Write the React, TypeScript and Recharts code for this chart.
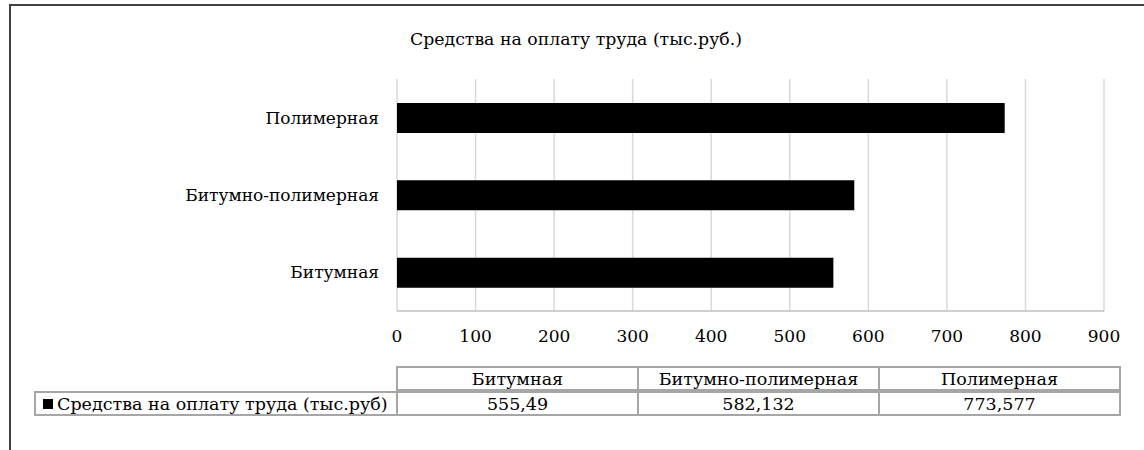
import { BarChart, Bar, XAxis, YAxis, CartesianGrid } from "recharts";

const categories = ["Битумная", "Битумно-полимерная", "Полимерная"];
const values = [555.49, 582.132, 773.577];
const valueLabels = ["555,49", "582,132", "773,577"];
const xTicks = [0, 100, 200, 300, 400, 500, 600, 700, 800, 900];

const title = "Средства на оплату труда (тыс.руб.)";
const seriesName = "Средства на оплату труда (тыс.руб)";

const data = categories.map((name, i) => ({ name, value: values[i] }));

const FONT = '"DejaVu Serif", serif';
const TABLE_LEFT = 35;
const TABLE_SPLIT = 397;
const TABLE_RIGHT = 1120;
const ROW_TOP = 367;
const ROW_H = 25;
const BORDER = "#a6a6a6";

function DataTable() {
  const colW = (TABLE_RIGHT - TABLE_SPLIT) / categories.length;
  const cell = (left: number, top: number, width: number): React.CSSProperties => ({
    position: "absolute",
    left,
    top,
    width,
    height: ROW_H,
    border: `2px solid ${BORDER}`,
    boxSizing: "border-box",
    display: "flex",
    alignItems: "center",
    justifyContent: "center",
    fontFamily: FONT,
    fontSize: 17.5,
    color: "#000",
    marginLeft: -1,
    marginTop: -1,
    whiteSpace: "nowrap",
  });
  return (
    <>
      {categories.map((c, i) => (
        <div key={"h" + c} style={cell(TABLE_SPLIT + i * colW, ROW_TOP, colW + 2)}>
          {c}
        </div>
      ))}
      {valueLabels.map((v, i) => (
        <div key={"v" + i} style={cell(TABLE_SPLIT + i * colW, ROW_TOP + ROW_H, colW + 2)}>
          {v}
        </div>
      ))}
      <div
        style={{
          ...cell(TABLE_LEFT, ROW_TOP + ROW_H, TABLE_SPLIT - TABLE_LEFT + 2),
          justifyContent: "flex-start",
          paddingLeft: 7,
        }}
      >
        <span
          style={{
            display: "inline-block",
            width: 10,
            height: 10,
            background: "#000",
            marginRight: 4,
          }}
        />
        {seriesName}
      </div>
    </>
  );
}

export default function App() {
  return (
    <div
      style={{
        position: "absolute",
        left: 0,
        top: 0,
        width: 1144,
        height: 450,
        background: "#fff",
        overflow: "hidden",
      }}
    >
      <div
        style={{
          position: "absolute",
          left: 9,
          top: 4,
          width: 1200,
          height: 500,
          borderLeft: "2px solid #404040",
          borderTop: "2px solid #404040",
        }}
      />
      <div
        style={{
          position: "absolute",
          left: 4,
          top: 29,
          width: 1144,
          textAlign: "center",
          fontFamily: FONT,
          fontSize: 17.3,
          color: "#000",
        }}
      >
        {title}
      </div>
      <div style={{ position: "absolute", left: 0, top: 0 }}>
        <BarChart
          width={1144}
          height={450}
          data={data}
          layout="vertical"
          margin={{ top: 79, right: 40, left: 0, bottom: 109 }}
        >
          <CartesianGrid horizontal={false} stroke="#d9d9d9" strokeWidth={1.5} />
          <XAxis
            type="number"
            domain={[0, 900]}
            ticks={xTicks}
            interval={0}
            height={30}
            tickLine={false}
            tickMargin={13}
            axisLine={{ stroke: "#bfbfbf", strokeWidth: 1.5 }}
            tick={{ fill: "#000", fontFamily: FONT, fontSize: 17 }}
          />
          <YAxis
            type="category"
            dataKey="name"
            reversed
            width={397}
            axisLine={false}
            tickLine={false}
            tickMargin={12}
            tick={{ fill: "#000", fontFamily: FONT, fontSize: 17 }}
          />
          <Bar dataKey="value" fill="#000" barSize={30} isAnimationActive={false} />
        </BarChart>
      </div>
      <DataTable />
    </div>
  );
}
